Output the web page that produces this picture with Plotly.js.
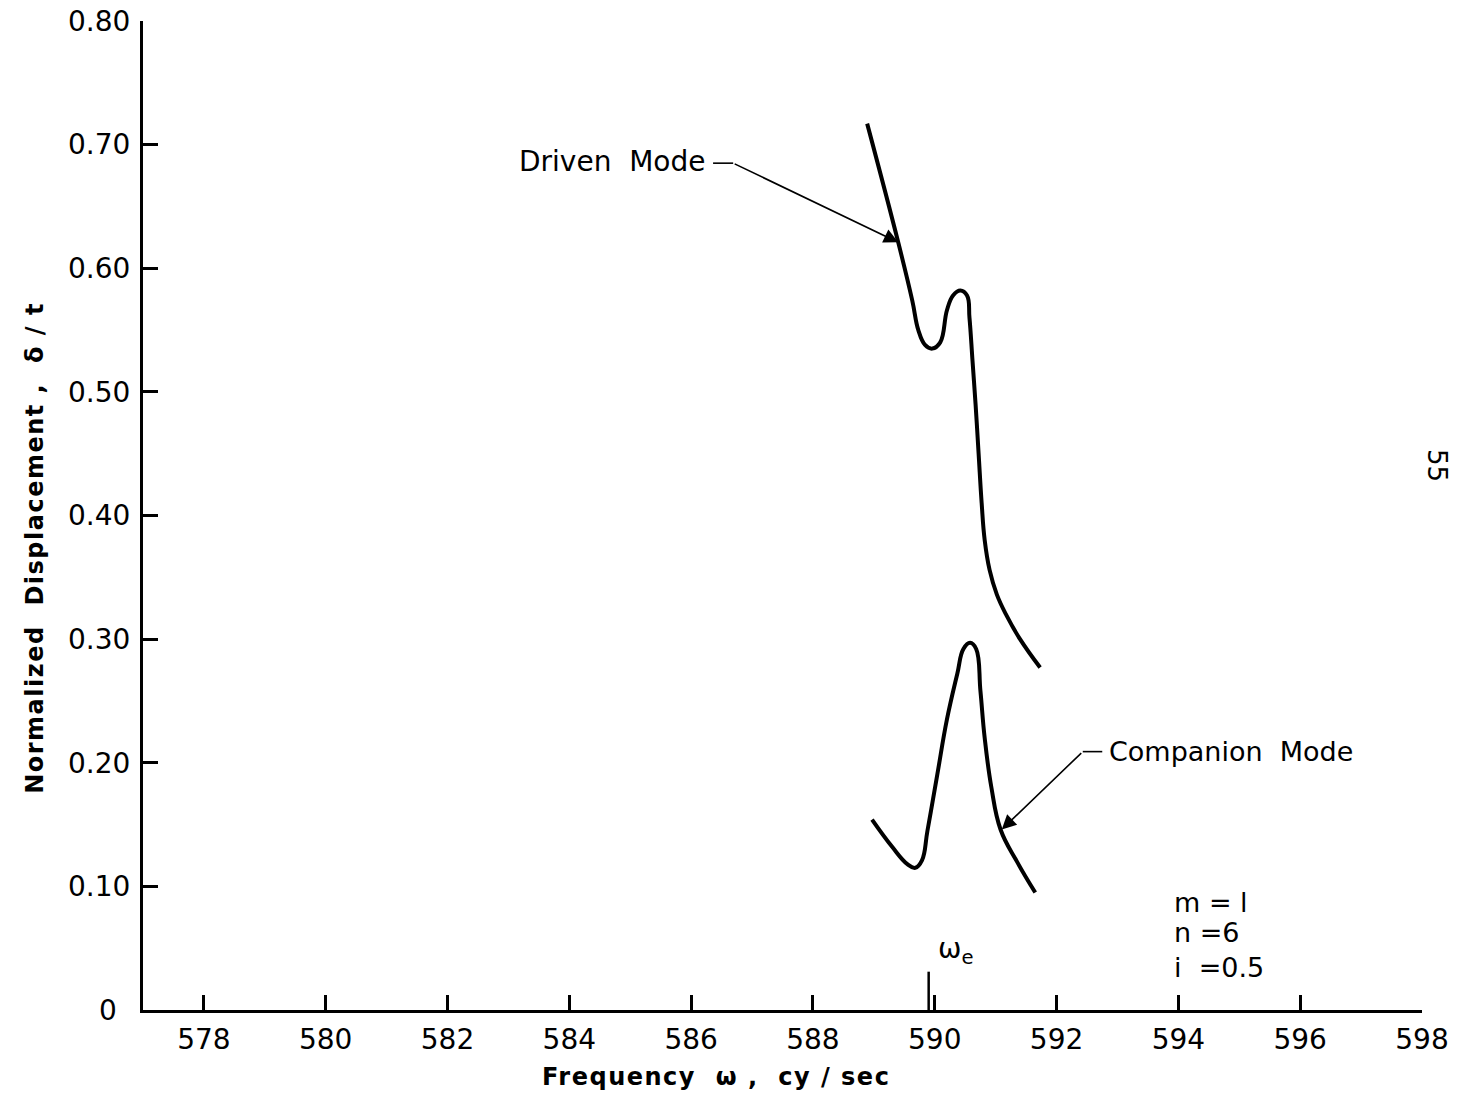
<!DOCTYPE html>
<html>
<head>
<meta charset="utf-8">
<script src="https://cdn.plot.ly/plotly-3.0.1.min.js"></script>
<style>html,body{margin:0;padding:0;background:#fff;}#chart{width:1465px;height:1096px;}</style>
</head>
<body>
<div id="chart"></div>
<script>
// Driven mode curve
const drivenFreq = [588.89, 589.40, 589.63, 589.73, 589.84, 589.96, 590.09, 590.20, 590.30, 590.42, 590.53, 590.57, 590.62, 590.67, 590.72, 590.77, 590.82, 590.90, 591.02, 591.18, 591.40, 591.73];
const drivenDisp = [0.717, 0.621, 0.574, 0.550, 0.538, 0.535, 0.540, 0.566, 0.578, 0.582, 0.578, 0.560, 0.525, 0.490, 0.450, 0.410, 0.380, 0.356, 0.336, 0.319, 0.300, 0.277];
// Companion mode curve
const compFreq = [588.97, 589.30, 589.55, 589.68, 589.79, 589.88, 590.04, 590.20, 590.37, 590.47, 590.58, 590.68, 590.75, 590.82, 590.93, 591.08, 591.35, 591.65];
const compDisp = [0.154, 0.132, 0.118, 0.115, 0.121, 0.145, 0.190, 0.235, 0.272, 0.292, 0.297, 0.292, 0.258, 0.220, 0.180, 0.146, 0.120, 0.095];

const xTickVals = [578, 580, 582, 584, 586, 588, 590, 592, 594, 596, 598];
const xTickText = ["578", "580", "582", "584", "586", "588", "590", "592", "594", "596", "598"];
const yTickVals = [0, 0.1, 0.2, 0.3, 0.4, 0.5, 0.6, 0.7, 0.8];
const yTickText = ["", "0.10", "0.20", "0.30", "0.40", "0.50", "0.60", "0.70", "0.80"];

const omegaE = 589.90;
const omegaEHeight = 0.031;
const params = ["m = l", "n =6", "i&#160;&#160;=0.5"];
const xTitle = "Frequency  ω ,  cy / sec";
const yTitle = "Normalized  Displacement ,  δ / t";

const FONT = "DejaVu Sans, sans-serif";
const ink = "#000";

const traces = [
  {x: drivenFreq, y: drivenDisp, mode: "lines", line: {color: ink, width: 4, shape: "spline", smoothing: 1.2}, hoverinfo: "skip"},
  {x: compFreq, y: compDisp, mode: "lines", line: {color: ink, width: 4, shape: "spline", smoothing: 1.2}, hoverinfo: "skip"}
];

const annotations = [
  {x: 584.70, y: 0.686, xref: "x", yref: "y", text: "Driven  Mode", showarrow: false, font: {family: FONT, size: 28, color: ink}},
  {x: 589.40, y: 0.621, ax: 586.69, ay: 0.685, axref: "x", ayref: "y", xref: "x", yref: "y", text: "", showarrow: true, arrowhead: 2, arrowsize: 1.8, arrowwidth: 1.6, arrowcolor: ink},
  {x: 594.87, y: 0.209, xref: "x", yref: "y", text: "Companion  Mode", showarrow: false, font: {family: FONT, size: 27, color: ink}},
  {x: 591.10, y: 0.146, ax: 592.43, ay: 0.209, axref: "x", ayref: "y", xref: "x", yref: "y", text: "", showarrow: true, arrowhead: 2, arrowsize: 1.8, arrowwidth: 1.6, arrowcolor: ink},
  {x: 590.35, y: 0.048, xref: "x", yref: "y", text: "ω<sub>e</sub>", showarrow: false, font: {family: FONT, size: 28, color: ink}},
  {x: 593.90, y: 0.087, xref: "x", yref: "y", xanchor: "left", text: params[0], showarrow: false, font: {family: FONT, size: 27, color: ink}},
  {x: 593.90, y: 0.063, xref: "x", yref: "y", xanchor: "left", text: params[1], showarrow: false, font: {family: FONT, size: 27, color: ink}},
  {x: 593.90, y: 0.034, xref: "x", yref: "y", xanchor: "left", text: params[2], showarrow: false, font: {family: FONT, size: 27, color: ink}},
  {x: -0.036, y: 0.0, xref: "paper", yref: "y", text: "0", showarrow: false, font: {family: FONT, size: 28, color: ink}},
  {x: 1.025, y: 0.55, xref: "paper", yref: "paper", text: "55", textangle: 90, showarrow: false, font: {family: FONT, size: 26, color: ink}},
  {x: 0.448, y: -0.068, xref: "paper", yref: "paper", yanchor: "middle", text: xTitle, showarrow: false, font: {family: FONT, size: 24, color: ink, weight: "bold"}},
  {x: -0.097, y: 0.467, xref: "paper", yref: "paper", text: yTitle, textangle: -90, showarrow: false, font: {family: FONT, size: 24, color: ink, weight: "bold"}}
];

const shapes = [
  {type: "line", xref: "x", yref: "y", x0: omegaE, x1: omegaE, y0: 0, y1: omegaEHeight, line: {color: ink, width: 2.5}},
  {type: "line", xref: "x", yref: "y", x0: 586.36, x1: 586.69, y0: 0.685, y1: 0.685, line: {color: ink, width: 1.6}},
  {type: "line", xref: "x", yref: "y", x0: 592.43, x1: 592.75, y0: 0.209, y1: 0.209, line: {color: ink, width: 1.6}}
];

const layout = {
  width: 1465, height: 1096,
  margin: {l: 143, r: 43, t: 21, b: 86},
  paper_bgcolor: "#fff", plot_bgcolor: "#fff",
  showlegend: false,
  font: {family: FONT, color: ink},
  xaxis: {
    range: [577, 598], showgrid: false, zeroline: false,
    showline: true, linecolor: ink, linewidth: 3,
    ticks: "inside", ticklen: 15, tickwidth: 3, tickcolor: ink,
    tickvals: xTickVals, ticktext: xTickText,
    tickfont: {family: FONT, size: 28, color: ink},
    ticklabelstandoff: 2
  },
  yaxis: {
    range: [0, 0.8], showgrid: false, zeroline: false,
    showline: true, linecolor: ink, linewidth: 3,
    ticks: "inside", ticklen: 15, tickwidth: 3, tickcolor: ink,
    tickvals: yTickVals, ticktext: yTickText,
    tickfont: {family: FONT, size: 28, color: ink},
    ticklabelstandoff: 4
  },
  annotations: annotations,
  shapes: shapes
};

Plotly.newPlot("chart", traces, layout, {displayModeBar: false, staticPlot: true}).then(function (gd) {
  gd.querySelectorAll(".annotation-text").forEach(function (t) {
    const s = t.textContent;
    if (s.indexOf("Frequency") === 0) t.style.letterSpacing = "1.5px";
    if (s.indexOf("Normalized") === 0) t.style.letterSpacing = "1.5px";
  });
});
</script>
</body>
</html>
